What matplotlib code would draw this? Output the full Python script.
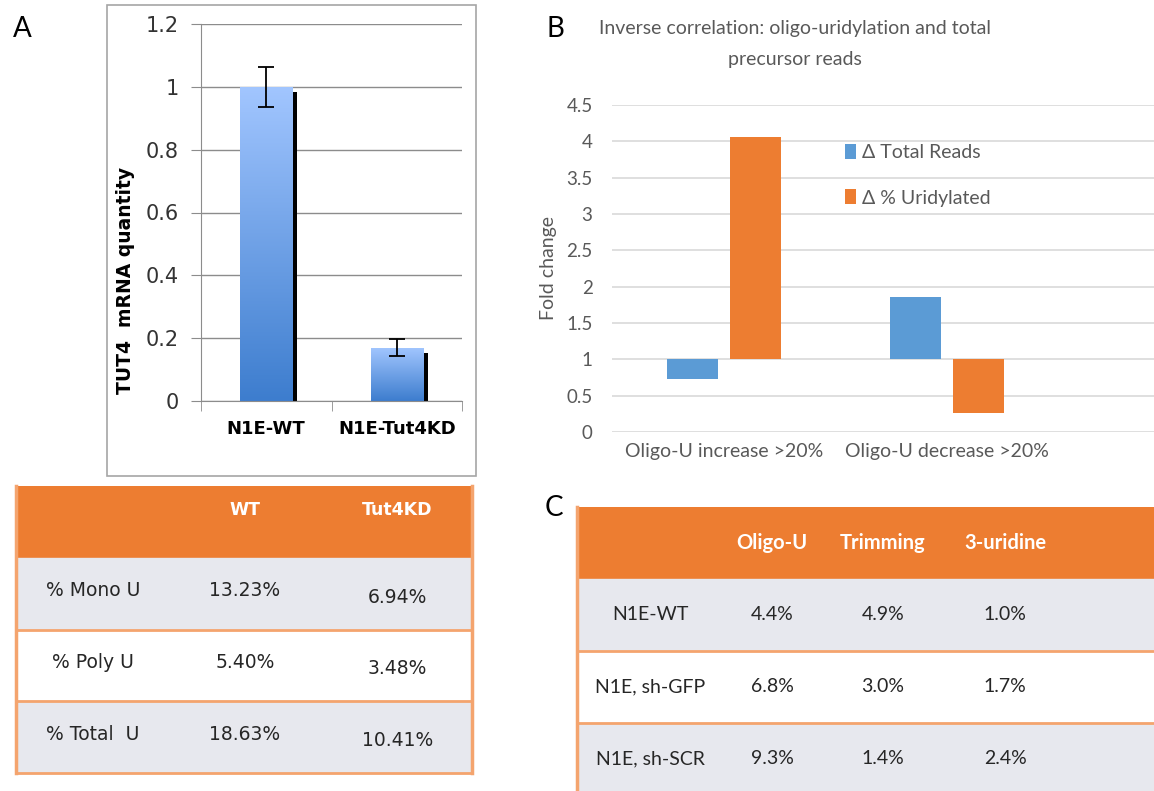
import numpy as np
import matplotlib.pyplot as plt
import matplotlib.patheffects as pe
from matplotlib.colors import LinearSegmentedColormap
from matplotlib.patches import Rectangle
from matplotlib.ticker import FuncFormatter

W, H = 1154, 791

# panel A: TUT4 qPCR
a_groups = ['N1E-WT', 'N1E-Tut4KD']
a_values = [1.0, 0.17]
a_errors = [0.063, 0.028]

# panel B: fold changes
b_groups = ['Oligo-U increase >20%', 'Oligo-U decrease >20%']
b_series = ['Δ Total Reads', 'Δ % Uridylated']
b_total_reads = [0.73, 1.86]
b_uridylated = [4.06, 0.26]

# table under A
ta_header = ['', 'WT', 'Tut4KD']
ta_rows = ['% Mono U', '% Poly U', '% Total  U']
ta_wt = ['13.23%', '5.40%', '18.63%']
ta_kd = ['6.94%', '3.48%', '10.41%']

# table C
tc_header = ['', 'Oligo-U', 'Trimming', '3-uridine']
tc_rows = ['N1E-WT', 'N1E, sh-GFP', 'N1E, sh-SCR']
tc_oligo = ['4.4%', '6.8%', '9.3%']
tc_trim = ['4.9%', '3.0%', '1.4%']
tc_uri = ['1.0%', '1.7%', '2.4%']

ORANGE = '#ED7D31'
BLUE = '#5B9BD5'
GREY_TXT = '#595959'
ROW_GREY = '#E7E8EE'
LINE_OR = '#F4A46E'
AX_GREY = '#8C8C8C'


def box(x0, y0, x1, y1):
    # pixel box -> figure fraction
    return [x0 / W, 1 - y1 / H, (x1 - x0) / W, (y1 - y0) / H]


fig = plt.figure(figsize=(W / 100, H / 100), dpi=100)

# ---------------- panel A ----------------
fig.add_artist(Rectangle((107 / W, 1 - 476 / H), 369 / W, 471 / H, transform=fig.transFigure,
                         fill=False, edgecolor='#A6A6A6', lw=1.2))
ax = fig.add_axes(box(201, 24, 462, 401))
xa = np.arange(len(a_groups))
bars = ax.bar(xa, a_values, width=0.4, facecolor='none', edgecolor='none', zorder=2)
cmap = LinearSegmentedColormap.from_list('tut', ['#3D7DCE', '#A2C6FF'])
grad = np.linspace(0, 1, 256).reshape(-1, 1)
for b in bars:
    b.set_path_effects([pe.SimplePatchShadow(offset=(3.6, -3.6), shadow_rgbFace='black', alpha=1.0),
                        pe.Normal()])
    x0, y0 = b.get_x(), b.get_y()
    im = ax.imshow(grad, cmap=cmap, origin='lower', aspect='auto', zorder=2.5,
                   extent=(x0, x0 + b.get_width(), y0, y0 + b.get_height()))
    im.set_clip_path(b)
ax.errorbar(xa, a_values, yerr=a_errors, fmt='none', ecolor='black', elinewidth=1.3,
            capsize=6, capthick=1.3, zorder=4)
ax.set_xlim(-0.5, 1.5)
ax.set_ylim(0, 1.2)
ax.set_yticks(np.arange(0, 1.21, 0.2))
ax.yaxis.set_major_formatter(FuncFormatter(lambda v, p: '%g' % round(v, 1)))
ax.yaxis.grid(True, color=AX_GREY, lw=1)
ax.set_axisbelow(True)
for s in ['top', 'right']:
    ax.spines[s].set_visible(False)
for s in ['left', 'bottom']:
    ax.spines[s].set_color(AX_GREY)
ax.set_xticks(xa, a_groups, fontweight='bold', fontsize=13)
ax.set_xticks([-0.5, 0.5, 1.5], minor=True)
ax.tick_params(axis='x', which='major', length=0, pad=14)
ax.tick_params(axis='x', which='minor', length=7, color=AX_GREY)
ax.tick_params(axis='y', length=7, color=AX_GREY, labelsize=15, labelcolor='#333333', pad=9)
ax.set_ylabel('TUT4  mRNA quantity', fontweight='bold', fontsize=13.5)
ax.yaxis.set_label_coords((135 - 201) / 261, (401 - 280) / 377)

# ---------------- panel B ----------------
bx = fig.add_axes(box(612, 105, 1154, 432))
xb = np.arange(len(b_groups))
bx.bar(xb - 0.141, np.array(b_total_reads) - 1, bottom=1, width=0.23, color=BLUE,
       label=b_series[0], zorder=2)
bx.bar(xb + 0.141, np.array(b_uridylated) - 1, bottom=1, width=0.23, color=ORANGE,
       label=b_series[1], zorder=2)
bx.set_xlim(-0.502, 1.928)
bx.set_ylim(0, 4.5)
bx.set_yticks(np.arange(0, 4.51, 0.5))
bx.yaxis.set_major_formatter(FuncFormatter(lambda v, p: '%g' % v))
bx.yaxis.grid(True, color='#D9D9D9', lw=1.2)
bx.set_axisbelow(True)
for s in bx.spines.values():
    s.set_visible(False)
bx.set_xticks(xb, b_groups, fontsize=14, family='Lato')
bx.tick_params(axis='both', length=0, labelcolor=GREY_TXT)
bx.tick_params(axis='x', pad=8)
bx.tick_params(axis='y', pad=14, labelsize=13.5)
for t in bx.get_yticklabels():
    t.set_family('Lato')
bx.set_ylabel('Fold change', fontsize=14, family='Lato', color=GREY_TXT)
bx.yaxis.set_label_coords((557 - 612) / 542, 0.5)
bx.legend(loc='upper left', bbox_to_anchor=(845 / W, 1 - 144 / H), bbox_transform=fig.transFigure,
          frameon=False, handlelength=0.55, handleheight=0.8, handletextpad=0.3,
          labelspacing=1.45, borderpad=0, borderaxespad=0,
          prop={'family': 'Lato', 'size': 14}, labelcolor=GREY_TXT)
fig.text(795 / W, 1 - 44 / H, 'Inverse correlation: oligo-uridylation and total\nprecursor reads',
         ha='center', va='center', fontsize=14, color=GREY_TXT, linespacing=1.95, family='Lato')

# panel letters
for lab, x, y in [('A', 22, 29), ('B', 555, 29), ('C', 554, 508)]:
    fig.text(x / W, 1 - y / H, lab, ha='center', va='center', fontsize=20, family='Lato')


# ---------------- tables ----------------
def draw_table(rect, nrows, col_x, header, body, font, hsize, bsize, head_y, shifts, right_border):
    t = fig.add_axes(rect)
    t.set_xlim(0, 1)
    t.set_ylim(nrows, 0)
    t.axis('off')
    t.axhspan(0, 1, color=ORANGE, zorder=0)
    for i in range(len(body[0])):
        t.axhspan(i + 1, i + 2, color=ROW_GREY if i % 2 == 0 else 'white', zorder=0)
        t.axhline(i + 2, color=LINE_OR, lw=2, clip_on=False, zorder=1)
    t.axvline(0, color=LINE_OR, lw=2.5, clip_on=False, zorder=1)
    if right_border:
        t.axvline(1, color=LINE_OR, lw=2.5, clip_on=False, zorder=1)
    for j, lab in enumerate(header):
        t.text(col_x[j], head_y, lab, ha='center', va='center', color='white',
               fontweight='bold', fontsize=hsize, family=font)
    for j, col in enumerate(body):
        for i, v in enumerate(col):
            t.text(col_x[j], i + 1.5 + shifts[j], v, ha='center', va='center',
                   color='#262626', fontsize=bsize, family=font)


draw_table(box(16, 486, 472, 773), 4, [0.169, 0.502, 0.836], ta_header,
           [ta_rows, ta_wt, ta_kd], 'DejaVu Sans', 12.5, 13.5, 0.33, [-0.04, -0.04, 0.05], True)
draw_table(box(577, 507, 1154, 791), (791 - 507) / 72, [0.127, 0.338, 0.530, 0.742], tc_header,
           [tc_rows, tc_oligo, tc_trim, tc_uri], 'Lato', 14.5, 14, 0.5, [0, 0, 0, 0], False)

plt.savefig('out.png', dpi=100)
